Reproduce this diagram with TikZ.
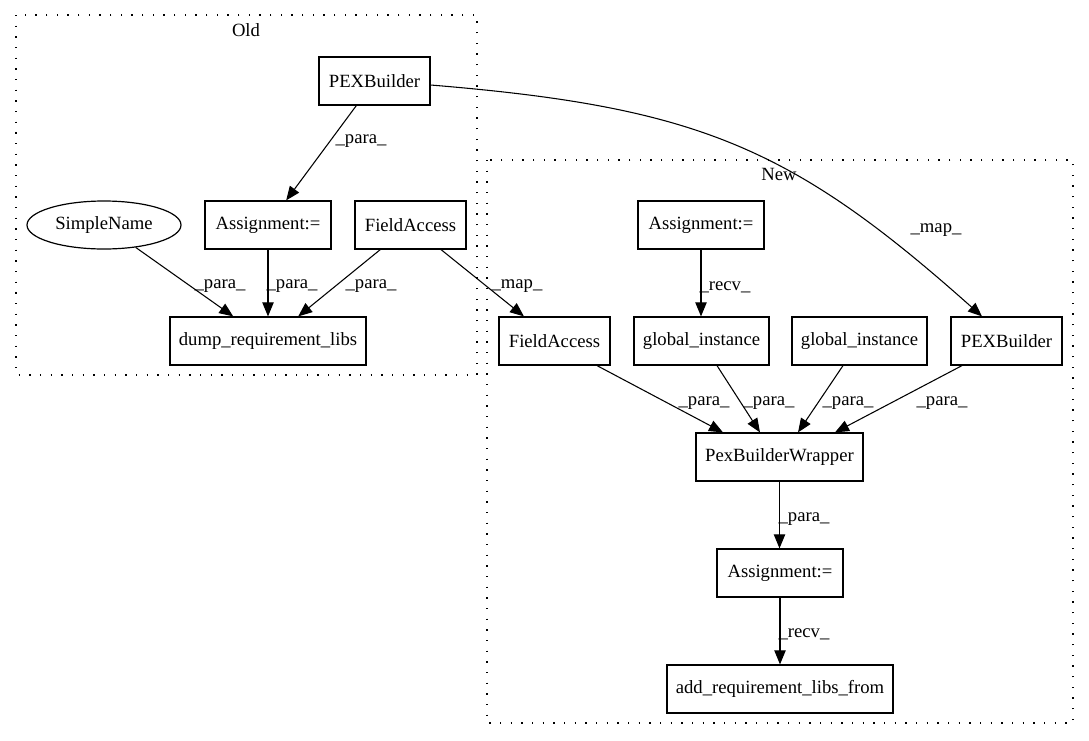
\documentclass[tikz,border=0pt]{standalone}
\usepackage{fontspec}
\setmainfont{Liberation Serif}
\usetikzlibrary{arrows.meta,shapes.geometric,calc}
\begin{document}
\begin{tikzpicture}[x=0.75pt,y=-0.75pt,
  nodebox/.style={draw, rectangle, minimum height=36pt, inner sep=0pt, font=\fontsize{14}{16}\selectfont, line width=0.9pt},
  oval/.style={draw, ellipse, minimum height=36pt, inner sep=0pt, font=\fontsize{14}{16}\selectfont, line width=0.9pt},
  edge/.style={draw, line width=0.8pt, -{Triangle[length=10.5pt,width=8.5pt]}},
  lbl/.style={font=\fontsize{14}{16}\selectfont, anchor=base, inner sep=0pt},
  cluster/.style={draw, line width=1pt, dash pattern=on 1.1pt off 6.9pt}]
\useasboundingbox (0,0) rectangle (1089,740);
% clusters
\draw[cluster] (16,15) rectangle (477,375);
\node[lbl] (oldlbl) at (246,36) {Old};
\draw[cluster] (487,160) rectangle (1073,723);
\node[lbl] (newlbl) at (779,180) {New};
% old nodes
\node[nodebox, minimum width=83.25pt] (opex) at (374.5,81) {PEXBuilder};
\node[nodebox, minimum width=94.5pt] (oassign) at (268,225) {Assignment:=};
\node[nodebox, minimum width=83.25pt] (ofa) at (410.5,225) {FieldAccess};
\node[oval, minimum width=115.5pt] (simple) at (104,225) {SimpleName};
\node[nodebox, minimum width=147pt] (dump) at (268,341) {dump\_requirement\_libs};
% new nodes
\node[nodebox, minimum width=94.5pt] (nassign) at (701,225) {Assignment:=};
\node[nodebox, minimum width=83.25pt] (nfa) at (554.5,341) {FieldAccess};
\node[nodebox, minimum width=101.25pt] (gone) at (701.5,341) {global\_instance};
\node[nodebox, minimum width=101.25pt] (gtwo) at (859.5,341) {global\_instance};
\node[nodebox, minimum width=83.25pt] (npex) at (1006.5,341) {PEXBuilder};
\node[nodebox, minimum width=125.25pt] (pbw) at (779.5,457) {PexBuilderWrapper};
\node[nodebox, minimum width=94.5pt] (bassign) at (780,573) {Assignment:=};
\node[nodebox, minimum width=169.5pt] (add) at (780,689) {add\_requirement\_libs\_from};
% edges (old)
\draw[edge] (opex) -- (oassign);
\node[lbl] (l1) at (361,143) {\_para\_};
\draw[edge] (simple) -- (dump);
\node[lbl] (l2) at (220,288) {\_para\_};
\draw[edge] (oassign) -- (dump);
\node[lbl] (l3) at (292,288) {\_para\_};
\draw[edge] (ofa) -- (dump);
\node[lbl] (l4) at (371,288) {\_para\_};
% map edges
\draw[edge] (ofa) -- (nfa);
\node[lbl] (l5) at (517,288) {\_map\_};
\draw[edge] ($(opex.east)+(0,4)$) .. controls (698,107) and (792,147) .. ($(npex.north)+(-24.5,0)$);
\node[lbl] (l6) at (936,232) {\_map\_};
% edges (new)
\draw[edge] (nassign) -- (nassign |- gone.north);
\node[lbl] (l7) at (725,290) {\_recv\_};
\draw[edge] ($(nfa.south)+(42.5,0)$) -- ($(pbw.north)+(-56.5,0)$);
\node[lbl] (l8) at (704,405) {\_para\_};
\draw[edge] ($(gone.south)+(15.5,0)$) -- ($(pbw.north)+(-19.5,0)$);
\node[lbl] (l9) at (769,405) {\_para\_};
\draw[edge] ($(gtwo.south)+(-16.5,0)$) -- ($(pbw.north)+(18.5,0)$);
\node[lbl] (l10) at (848,405) {\_para\_};
\draw[edge] ($(npex.south)+(-44.5,0)$) -- ($(pbw.north)+(55.5,0)$);
\node[lbl] (l11) at (942,405) {\_para\_};
\draw[edge] (pbw) -- (pbw |- bassign.north);
\node[lbl] (l12) at (804,521) {\_para\_};
\draw[edge] (bassign) -- (add);
\node[lbl] (l13) at (804,637) {\_recv\_};
\end{tikzpicture}
\end{document}
